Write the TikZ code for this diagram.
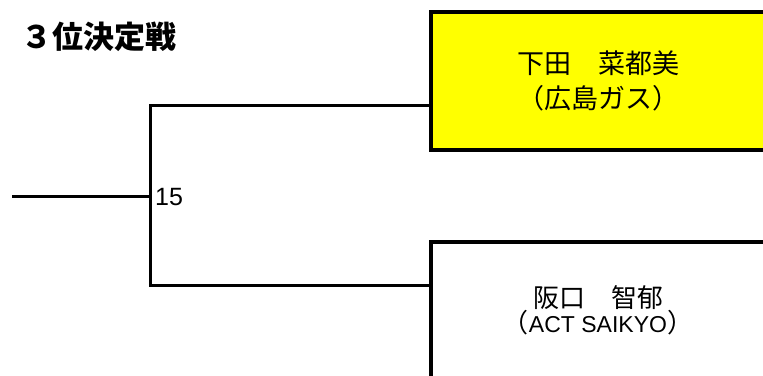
\documentclass[tikz,border=0pt]{standalone}
\usepackage{fontspec}
\setmainfont{Liberation Sans}
\newfontfamily\cjk{Noto Sans CJK JP}
\tikzset{
  box/.style={draw=black, line width=3.5pt, minimum width=334pt, inner sep=0pt, align=center},
  wire/.style={draw=black, line width=3pt},
}
\begin{document}
\begin{tikzpicture}[x=1pt,y=-1pt]
\useasboundingbox (0,0) rectangle (763,375);
\clip (0,0) rectangle (763,375);
\node[anchor=west, inner sep=0pt, font={\cjk\bfseries\fontsize{31}{31}\selectfont}] (title) at (21,37) {３位決定戦};
\node[box, fill={rgb,255:red,255;green,255;blue,0}, minimum height=138pt, font={\cjk\fontsize{27}{35}\selectfont}] (top) at (598,81)
  {下田　菜都美\\（広島ガス）};
\node[box, fill=white, minimum height=136pt, font={\cjk\fontsize{26}{25}\selectfont}] (bot) at (598,310)
  {阪口　智郁\\（{\fontspec{Liberation Sans}\fontsize{23}{25}\selectfont ACT SAIKYO}）};
\coordinate (in) at (12,196);
\coordinate (jt) at (150,105);
\coordinate (jb) at (150,285);
\draw[wire] (in) -- (in -| jt);
\draw[wire] (jt) -- (jt -| top.west);
\draw[wire] (jb) -- (jb -| bot.west);
\draw[wire, line cap=rect] (jt) -- (jb);
\node[anchor=west, inner sep=0pt, font={\fontsize{25}{25}\selectfont}] (num) at (155,197) {15};
\end{tikzpicture}
\end{document}
